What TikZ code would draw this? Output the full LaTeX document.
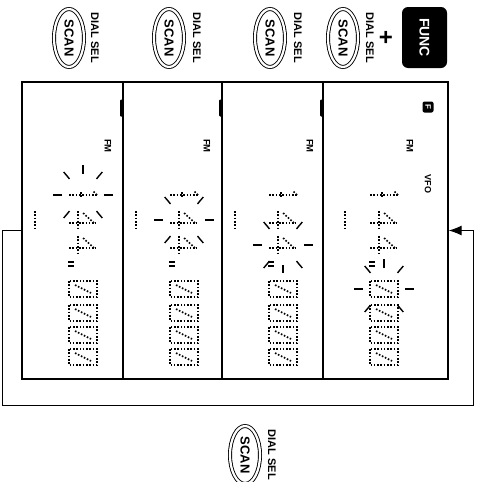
\documentclass[tikz,border=0pt]{standalone}
\usepackage{fontspec}
\setmainfont{Liberation Sans}
\usepackage{tikz}
\usetikzlibrary{shapes.geometric, arrows.meta}

\begin{document}
\begin{tikzpicture}[
    x=1pt, y=-1pt,
    panel/.style={rectangle, draw, line width=1.3pt, minimum height=297pt, inner sep=0pt},
    tab/.style={rectangle, fill=black, minimum width=3pt, minimum height=17pt, inner sep=0pt, rounded corners=1pt},
    scanbtn/.style={ellipse, draw, double, double distance=2.2pt, line width=0.9pt, minimum width=58pt, minimum height=30pt, inner sep=0pt, rotate=-90, font=\fontsize{13}{15}\selectfont\bfseries},
    funcbtn/.style={rectangle, fill=black, text=white, rounded corners=6pt, minimum width=61pt, minimum height=45pt, inner sep=0pt, rotate=-90, font=\fontsize{14}{16}\selectfont\bfseries},
    lbl/.style={inner sep=0pt, rotate=-90, font=\fontsize{11}{13}\selectfont\bfseries},
    small/.style={inner sep=0pt, rotate=-90, font=\fontsize{9.5}{11}\selectfont\bfseries},
    ficon/.style={rectangle, fill=black, text=white, rounded corners=2pt, minimum size=11pt, inner sep=0pt, rotate=-90, font=\fontsize{8}{9}\selectfont\bfseries},
    seg/.style={line width=1.6pt, dash pattern=on 1.6pt off 1.7pt},
    ray/.style={line width=1.4pt},
    loopline/.style={line width=1pt, -{Latex[length=13pt, width=10pt]}},
    done/.pic={
        \draw[seg] (-14,0) -- (14,0);
        \draw[seg] (14,0) -- (10,-4);
        \draw[seg] (-2,-3) -- (-2,3);
    },
    dfour/.pic={
        \draw[seg] (-14,3) -- (13,3);
        \draw[seg] (-5,-9) -- (-5,9);
        \draw[seg] (11,3) -- (-1,-8);
    },
    dzero/.pic={
        \draw[seg] (-14,-8) rectangle (14,8);
        \draw[seg] (-8,-4) -- (8,4);
    },
    dpoint/.pic={
        \draw[line width=1.3pt] (-3,-2) -- (3,-2) (-3,2) -- (3,2);
    },
    blink/.pic={
        \foreach \a in {0,50,130,180,230,310}
            \draw[ray] (\a:21) -- (\a:30);
    },
    blinkup/.pic={
        \pic {blink};
        \draw[ray] (270:21) -- (270:30);
    },
    blinkdown/.pic={
        \pic {blink};
        \draw[ray] (90:20) -- (90:28);
    }
]
\useasboundingbox (0,0) rectangle (481,482);

% Buttons
\node[scanbtn] (scanA) at (69,38) {SCAN};
\node[lbl] (selA) at (95,38) {DIAL SEL};
\node[scanbtn] (scanB) at (169,38) {SCAN};
\node[lbl] (selB) at (197,38) {DIAL SEL};
\node[scanbtn] (scanC) at (270,38) {SCAN};
\node[lbl] (selC) at (298,38) {DIAL SEL};
\node[scanbtn] (scanD) at (343,38) {SCAN};
\node[lbl] (selD) at (370,38) {DIAL SEL};
\node[inner sep=0pt, font=\fontsize{24}{24}\selectfont\bfseries] (plus) at (386,38) {+};
\node[funcbtn] (func) at (424.5,37.5) {FUNC};

\node[scanbtn] (scanE) at (245,455) {SCAN};
\node[lbl] (selE) at (272,455) {DIAL SEL};

% Panels
\node[panel, minimum width=125pt] (p1) at (385.5,230.5) {};
\node[panel, minimum width=101pt] (p2) at (272.5,230.5) {};
\node[panel, minimum width=99pt] (p3) at (172.5,230.5) {};
\node[panel, minimum width=101pt] (p4) at (72.5,230.5) {};

\node[tab] (tabA) at (321.5,108) {};
\node[tab] (tabB) at (220.5,108) {};
\node[tab] (tabC) at (121.5,108) {};

% Panel 1
\node[ficon] (fset) at (428,107) {F};
\node[small] (fm1) at (410,146) {FM};
\node[small, font=\fontsize{9}{10}\selectfont\bfseries] (vfo) at (428,184) {VFO};
\draw[seg] (345,211) -- (345,228);
\pic (oneA) at (384,195) {done};
\pic (fourA) at (384,220) {dfour};
\pic (fourB) at (384,245) {dfour};
\pic (ptA) at (372,264) {dpoint};
\pic (zeroA) at (384,289) {dzero};
\pic (zeroB) at (384,313) {dzero};
\pic (zeroC) at (384,335) {dzero};
\pic (zeroD) at (384,357) {dzero};
\pic (blinkA) at (384,289) {blinkup};

% Panel 2
\node[small] (fm2) at (310,146) {FM};
\draw[seg] (235,211) -- (235,228);
\pic (oneB) at (283,195) {done};
\pic (fourC) at (283,220) {dfour};
\pic (fourD) at (283,245) {dfour};
\pic (ptB) at (271,264) {dpoint};
\pic (zeroE) at (283,289) {dzero};
\pic (zeroF) at (283,313) {dzero};
\pic (zeroG) at (283,335) {dzero};
\pic (zeroH) at (283,357) {dzero};
\pic (blinkB) at (283,245) {blinkdown};

% Panel 3
\node[small] (fm3) at (207,146) {FM};
\draw[seg] (136,211) -- (136,228);
\pic (oneC) at (184,195) {done};
\pic (fourE) at (184,220) {dfour};
\pic (fourF) at (184,245) {dfour};
\pic (ptC) at (172,264) {dpoint};
\pic (zeroI) at (184,289) {dzero};
\pic (zeroJ) at (184,313) {dzero};
\pic (zeroK) at (184,335) {dzero};
\pic (zeroL) at (184,357) {dzero};
\pic (blinkC) at (184,220) {blink};

% Panel 4
\node[small] (fm4) at (108,146) {FM};
\draw[seg] (35,211) -- (35,228);
\pic (oneD) at (83,195) {done};
\pic (fourG) at (83,220) {dfour};
\pic (fourH) at (83,245) {dfour};
\pic (ptD) at (71,264) {dpoint};
\pic (zeroM) at (83,289) {dzero};
\pic (zeroN) at (83,313) {dzero};
\pic (zeroO) at (83,335) {dzero};
\pic (zeroP) at (83,357) {dzero};
\pic (blinkD) at (83,195) {blinkup};

% Arrows
\coordinate (cornA) at (2,405);
\coordinate (cornB) at (473,405);
\draw[loopline] (p4.west) -| (cornA) -- (cornB) |- (p1.east);

\end{tikzpicture}
\end{document}
